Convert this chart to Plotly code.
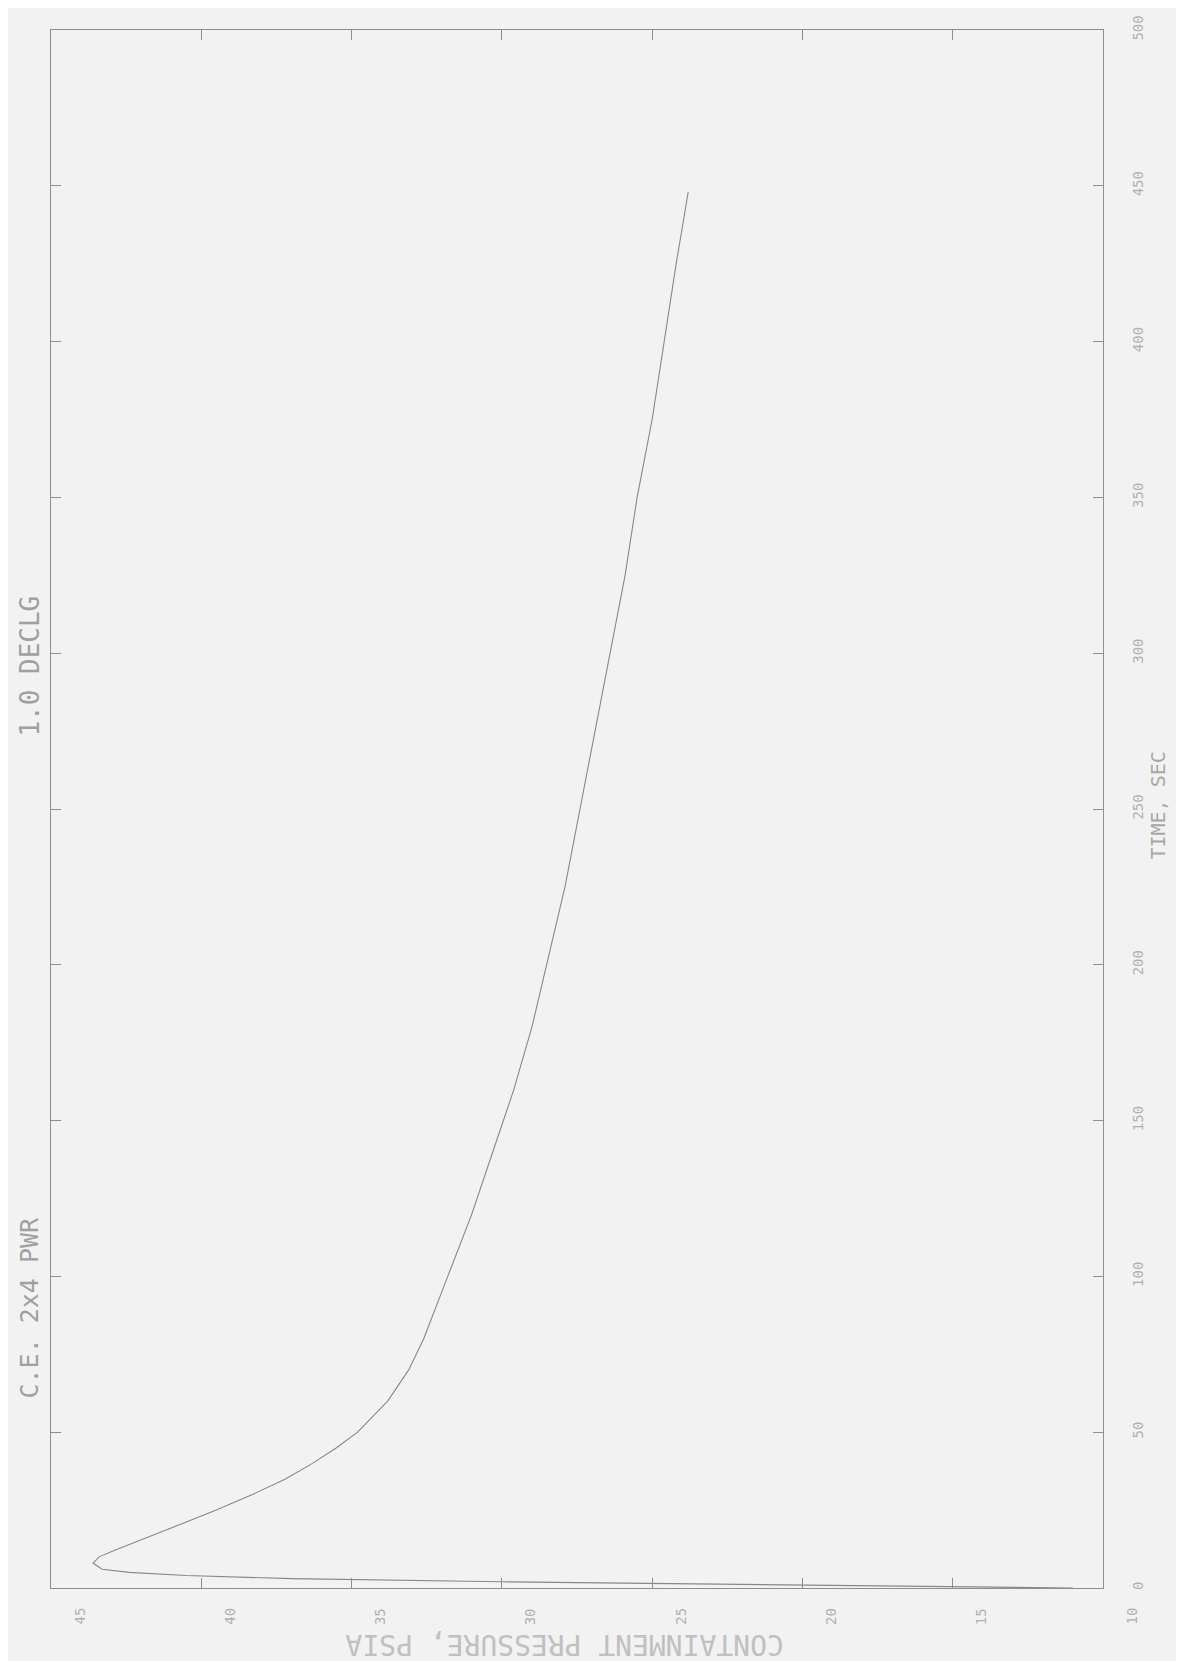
import plotly.graph_objects as go

# Data (chart is drawn rotated 90° CCW like the scanned page)
time_s = [0, 1, 2, 3, 4, 5, 6, 8, 10, 12, 15, 20, 25, 30, 35, 40, 45, 50, 60, 70, 80,
          100, 120, 140, 160, 180, 200, 225, 250, 275, 300, 325, 350, 375, 400, 425, 448]
pressure_psia = [11.0, 21.0, 30.0, 37.0, 40.5, 42.4, 43.3, 43.6, 43.4, 42.9, 42.1, 40.8, 39.5,
                 38.3, 37.2, 36.3, 35.5, 34.8, 33.8, 33.1, 32.6, 31.8, 31.0, 30.3, 29.6, 29.0,
                 28.5, 27.9, 27.4, 26.9, 26.4, 25.9, 25.5, 25.0, 24.6, 24.2, 23.8]
pressure_ticks = [45, 40, 35, 30, 25, 20, 15, 10]
time_ticks = [0, 50, 100, 150, 200, 250, 300, 350, 400, 450, 500]

BG = "#f2f2f2"
AX = "#8e8e8e"
TXT = "#b0b0b0"
FONT = "DejaVu Sans Mono"

fig = go.Figure()
fig.add_trace(go.Scatter(x=pressure_psia, y=time_s, mode="lines",
                         line=dict(color="#888888", width=1.1), showlegend=False,
                         hoverinfo="skip"))

annotations = []
for p in pressure_ticks:
    annotations.append(dict(x=p, y=0, xref="x", yref="paper", yanchor="top",
                            xanchor="center", yshift=-18, xshift=28, text=str(p),
                            textangle=-90, showarrow=False,
                            font=dict(family=FONT, size=14, color=TXT)))

annotations += [
    dict(x=-0.02, y=0.592, xref="paper", yref="paper", xanchor="center", yanchor="middle",
         text="1.0 DECLG", textangle=-90,
         showarrow=False, font=dict(family=FONT, size=26, color="#a0a0a0")),
    dict(x=-0.02, y=0.18, xref="paper", yref="paper", xanchor="center", yanchor="middle",
         text="C.E. 2x4 PWR", textangle=-90,
         showarrow=False, font=dict(family=FONT, size=25, color="#a0a0a0")),
    dict(x=1.052, y=0.502, xref="paper", yref="paper", xanchor="center", yanchor="middle",
         text="TIME, SEC", textangle=-90,
         showarrow=False, font=dict(family=FONT, size=20, color="#a8a8a8")),
    dict(x=0.488, y=0, xref="paper", yref="paper", xanchor="center", yanchor="middle",
         yshift=-57, text="CONTAINMENT PRESSURE, PSIA", textangle=180,
         showarrow=False, font=dict(family=FONT, size=28, color="#c0c0c0")),
]

fig.update_layout(
    width=1184, height=1661,
    margin=dict(l=43, r=89, t=22, b=81, autoexpand=False),
    paper_bgcolor=BG, plot_bgcolor=BG,
    annotations=annotations,
    xaxis=dict(range=[45, 10], tickvals=pressure_ticks, showticklabels=False,
               ticks="inside", ticklen=10, tickcolor=AX, mirror="ticks", automargin=False,
               showline=True, linecolor=AX, linewidth=1, showgrid=False, zeroline=False),
    yaxis=dict(range=[0, 500], tickvals=time_ticks, side="right", ticks="inside",
               ticklen=10, tickcolor=AX, mirror="ticks", showline=True, linecolor=AX,
               linewidth=1, showgrid=False, zeroline=False, tickangle=-90, automargin=False,
               tickfont=dict(family=FONT, size=14, color=TXT), ticklabelstandoff=22),
)

fig.write_html("out.html")
